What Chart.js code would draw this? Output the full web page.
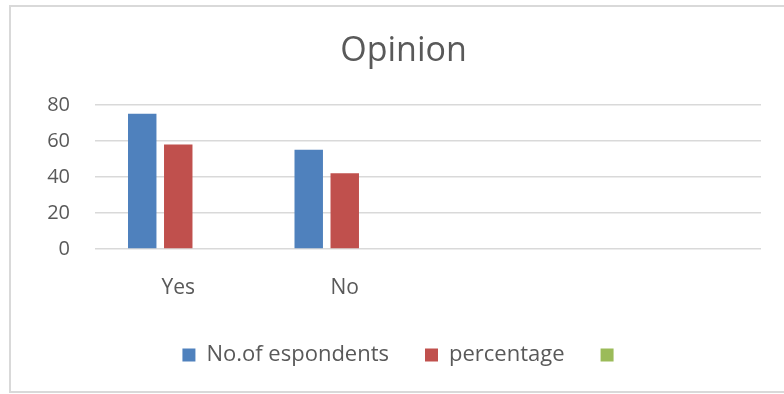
<!DOCTYPE html>
<html>
<head>
<meta charset="utf-8">
<script src="https://cdn.jsdelivr.net/npm/chart.js@4.4.1/dist/chart.umd.min.js"></script>
<style>
  html, body { margin: 0; padding: 0; background: #fff; overflow: hidden; }
  #wrap { position: relative; width: 784px; height: 394px; }
  #frame { position: absolute; left: 9px; top: 5px; width: 800px; height: 384px;
           border: 2px solid #d9d9d9; box-sizing: content-box; pointer-events: none; }
  canvas { position: absolute; left: 0; top: 0; }
</style>
</head>
<body>
<div id="wrap">
  <canvas id="chart" width="784" height="394"></canvas>
  <div id="frame"></div>
</div>
<script>
// Survey answers and their shares
const categories = ['Yes', 'No', '', ''];
const respondents = [75, 55];
const percentage = [58, 42];
const extraSeries = [];
const seriesNames = ['No.of espondents', 'percentage', ''];
const yTicks = [0, 20, 40, 60, 80];

const textColor = '#595959';
const fontFamily = '"Open Sans", "Noto Sans", sans-serif';

new Chart(document.getElementById('chart'), {
  type: 'bar',
  data: {
    labels: categories,
    datasets: [
      { label: seriesNames[0], data: respondents, backgroundColor: '#4f81bd' },
      { label: seriesNames[1], data: percentage, backgroundColor: '#c0504d' },
      { label: seriesNames[2], data: extraSeries, backgroundColor: '#9bbb59' }
    ]
  },
  options: {
    responsive: false,
    animation: false,
    events: [],
    layout: { padding: { left: 46, right: 23, top: 31, bottom: 18 } },
    datasets: { bar: { categoryPercentage: 0.649, barPercentage: 0.79 } },
    plugins: {
      title: {
        display: true,
        text: 'Opinion',
        color: textColor,
        font: { family: fontFamily, size: 34, weight: 'normal' },
        padding: { top: 0, bottom: 33 }
      },
      legend: {
        position: 'bottom',
        labels: {
          color: textColor,
          font: { family: fontFamily, size: 22 },
          boxWidth: 13,
          boxHeight: 13,
          padding: 36
        }
      },
      tooltip: { enabled: false }
    },
    scales: {
      x: {
        grid: { display: false },
        border: { display: false },
        ticks: { color: textColor, font: { family: fontFamily, size: 21 }, padding: 18, maxRotation: 0 },
        afterFit: (s) => { s.height = 59; }
      },
      y: {
        min: yTicks[0],
        max: yTicks[yTicks.length - 1],
        afterBuildTicks: (s) => { s.ticks = yTicks.map(v => ({ value: v })); },
        grid: { color: '#d9d9d9', lineWidth: 1.5, drawTicks: false },
        border: { display: false },
        ticks: { color: textColor, font: { family: fontFamily, size: 20 }, padding: 25 },
        afterFit: (s) => { s.width = 49; }
      }
    }
  }
});
</script>
</body>
</html>
